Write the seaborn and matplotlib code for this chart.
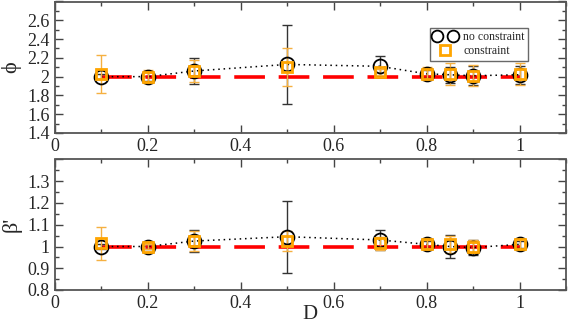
import numpy as np
import pandas as pd
import matplotlib
matplotlib.use("Agg")
import matplotlib.pyplot as plt
from matplotlib.ticker import MultipleLocator, FuncFormatter
from matplotlib.legend_handler import HandlerLine2D
import seaborn as sns

D = [0.1, 0.2, 0.3, 0.5, 0.7, 0.8, 0.85, 0.9, 1.0]

phi_nc = [2.00, 2.00, 2.06, 2.13, 2.11, 2.03, 2.02, 2.01, 2.02]
phi_nc_err = [0.03, 0.05, 0.135, 0.42, 0.11, 0.04, 0.085, 0.10, 0.095]
phi_c = [2.03, 2.00, 2.06, 2.10, 2.05, 2.03, 2.03, 2.01, 2.03]
phi_c_err = [0.20, 0.07, 0.12, 0.20, 0.03, 0.07, 0.12, 0.11, 0.12]

beta_nc = [1.00, 1.00, 1.025, 1.045, 1.03, 1.01, 1.00, 0.995, 1.01]
beta_nc_err = [0.01, 0.01, 0.05, 0.165, 0.045, 0.015, 0.055, 0.035, 0.015]
beta_c = [1.015, 1.00, 1.025, 1.025, 1.015, 1.01, 1.01, 1.00, 1.01]
beta_c_err = [0.075, 0.01, 0.045, 0.045, 0.03, 0.02, 0.04, 0.03, 0.025]

ref_phi = 2.0
ref_beta = 1.0

sns.set_style("ticks")
plt.rcParams["font.family"] = ["Liberation Serif", "DejaVu Serif"]

fig = plt.figure(figsize=(5.68, 3.26), dpi=100)
ax1 = fig.add_axes([54.5 / 568, 1 - 133 / 326, (566 - 54.5) / 568, (133 - 1.5) / 326])
ax2 = fig.add_axes([54.5 / 568, 1 - 290 / 326, (566 - 54.5) / 568, (290 - 159.5) / 326])

orange = "#FFA500"
ebar_orange = "#F5B041"

def panel(ax, y_nc, e_nc, y_c, e_c, ref, ylim, major, minor, ylabel, legend, ytop):
    df = pd.DataFrame({"D": D, "nc": y_nc, "c": y_c})
    ax.plot([D[0], D[-1]], [ref, ref], color="red", lw=2.6,
            dashes=(8.5, 3.8), zorder=2)
    sns.lineplot(data=df, x="D", y="nc", ax=ax, color="black", lw=1.1,
                 linestyle=(0, (1, 2.5)), zorder=3, legend=False)
    ax.errorbar(D, y_nc, yerr=e_nc, fmt="none", ecolor="#333333",
                elinewidth=1.0, capsize=3.5, capthick=1.0, zorder=3)
    ax.errorbar(D, y_c, yerr=e_c, fmt="none", ecolor=ebar_orange,
                elinewidth=1.0, capsize=3.5, capthick=1.0, zorder=4)
    l_nc, = ax.plot(D, y_nc, linestyle="none", marker="o", ms=10, mfc="none",
                    mec="black", mew=1.3, zorder=5, label="no constraint")
    l_c, = ax.plot(D, y_c, linestyle="none", marker="s", ms=7, mfc="none",
                   mec=orange, mew=2.0, zorder=6, label="constraint")
    ax.set_xlim(0, 1.1)
    ax.set_ylim(*ylim)
    ax.xaxis.set_major_locator(MultipleLocator(0.2))
    ax.xaxis.set_minor_locator(MultipleLocator(0.1))
    ax.yaxis.set_major_locator(MultipleLocator(major))
    ax.yaxis.set_minor_locator(MultipleLocator(minor))
    ax.tick_params(which="both", direction="in", top=True, right=True,
                   labelsize=13, color="#444444")
    ax.tick_params(which="major", length=6, width=1.0)
    ax.tick_params(which="minor", length=3, width=1.0)
    for s in ax.spines.values():
        s.set_color("#555555")
        s.set_linewidth(1.3)
    ax.set_ylabel(ylabel, fontsize=16, labelpad=4)
    ax.xaxis.set_major_formatter(FuncFormatter(
        lambda v, p: ("%g" % round(v, 2)) if v <= 1.0001 else ""))
    ax.yaxis.set_major_formatter(FuncFormatter(
        lambda v, p: ("%g" % round(v, 2)) if v < ytop else ""))
    if legend:
        leg = ax.legend(handles=[l_nc, l_c], loc="upper left",
                        bbox_to_anchor=(0.722, 0.845),
                        fontsize=8.5, frameon=True,
                        fancybox=False, edgecolor="#444444",
                        handlelength=2.0, handletextpad=0.55,
                        borderpad=0.3, labelspacing=0.15,
                        handler_map={l_nc: HandlerLine2D(numpoints=2),
                                     l_c: HandlerLine2D(numpoints=1)})
        leg.get_frame().set_linewidth(1.0)
        for h in leg.legend_handles:
            if h.get_marker() == "o":
                h.set_markersize(8.5)
            else:
                h.set_markersize(6.5)

panel(ax1, phi_nc, phi_nc_err, phi_c, phi_c_err, ref_phi, (1.4, 2.8), 0.2, 0.1,
      "ϕ", True, 2.7)
panel(ax2, beta_nc, beta_nc_err, beta_c, beta_c_err, ref_beta, (0.8, 1.4), 0.1, 0.05,
      "β'", False, 1.35)

ax1.set_xlabel("")
ax2.set_xlabel("D", fontsize=15, labelpad=-5)

fig.savefig("out.png", dpi=100)
